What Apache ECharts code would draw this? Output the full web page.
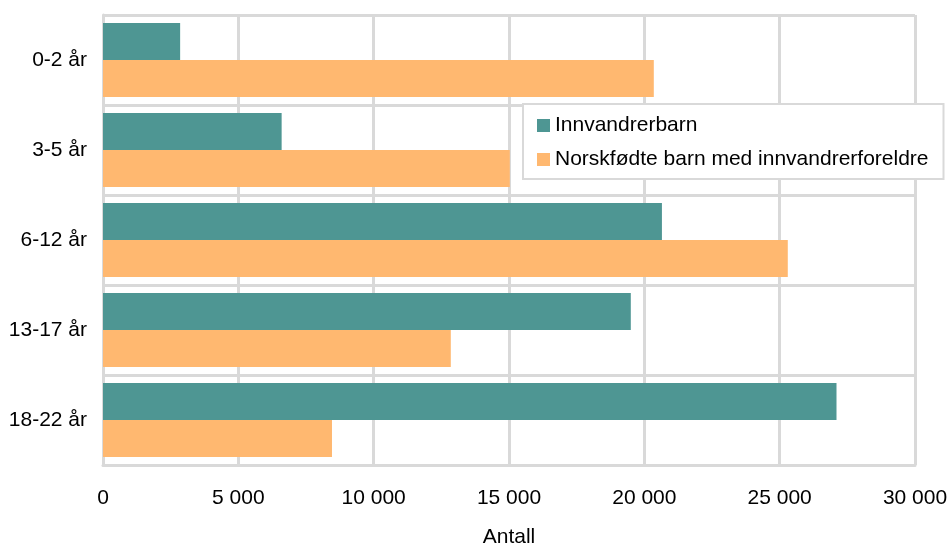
<!DOCTYPE html>
<html><head><meta charset="utf-8">
<script src="https://cdn.jsdelivr.net/npm/echarts@6/dist/echarts.min.js"></script>
<style>html,body{margin:0;padding:0;background:#fff}#c{width:952px;height:545px}</style>
</head><body><div id="c"></div>
<script>
var categories = ['0-2 år', '3-5 år', '6-12 år', '13-17 år', '18-22 år'];
var innvandrerbarn = [2850, 6600, 20650, 19500, 27100];
var norskfodte = [20350, 15030, 25300, 12850, 8460];
var seriesNames = ['Innvandrerbarn', 'Norskfødte barn med innvandrerforeldre'];
var axisName = 'Antall';

var font = 'Liberation Sans, Arial, sans-serif';
var fs = 21;
var chart = echarts.init(document.getElementById('c'));
chart.setOption({
  animation: false,
  textStyle: {fontFamily: font},
  grid: {left: 103, right: 37, top: 15, bottom: 80, containLabel: false, outerBoundsMode: 'none'},
  legend: {
    orient: 'vertical', left: 523, top: 104,
    backgroundColor: '#fff', borderColor: '#d9d9d9', borderWidth: 2,
    padding: [11, 15, 9, 14], itemGap: 13, itemWidth: 13, itemHeight: 13,
    textStyle: {fontSize: fs, color: '#000', fontFamily: font},
    data: seriesNames.map(function(n){return {name: n, icon: 'rect'};})
  },
  xAxis: {
    type: 'value', min: 0, max: 30000, interval: 5000,
    name: axisName, nameLocation: 'middle', nameGap: 62,
    nameTextStyle: {fontSize: fs, color: '#000', fontFamily: font},
    axisLine: {show: true, lineStyle: {color: '#d9d9d9', width: 3}},
    axisTick: {show: false},
    axisLabel: {fontSize: fs, color: '#000', margin: 23, fontFamily: font,
      formatter: function(v){return String(v).replace(/\B(?=(\d{3})+(?!\d))/g, ' ');}},
    splitLine: {show: true, lineStyle: {color: '#d9d9d9', width: 3}}
  },
  yAxis: {
    type: 'category', data: categories, inverse: true,
    axisLine: {show: true, lineStyle: {color: '#d9d9d9', width: 3}},
    axisTick: {show: false},
    axisLabel: {fontSize: fs, color: '#000', margin: 16, fontFamily: font},
    splitLine: {show: true, lineStyle: {color: '#d9d9d9', width: 3}}
  },
  series: [
    {name: seriesNames[0], type: 'bar', data: innvandrerbarn, itemStyle: {color: '#4e9693'}, barGap: '0%', barCategoryGap: '18%'},
    {name: seriesNames[1], type: 'bar', data: norskfodte, itemStyle: {color: '#ffb870'}, barGap: '0%', barCategoryGap: '18%'}
  ]
});
</script></body></html>
